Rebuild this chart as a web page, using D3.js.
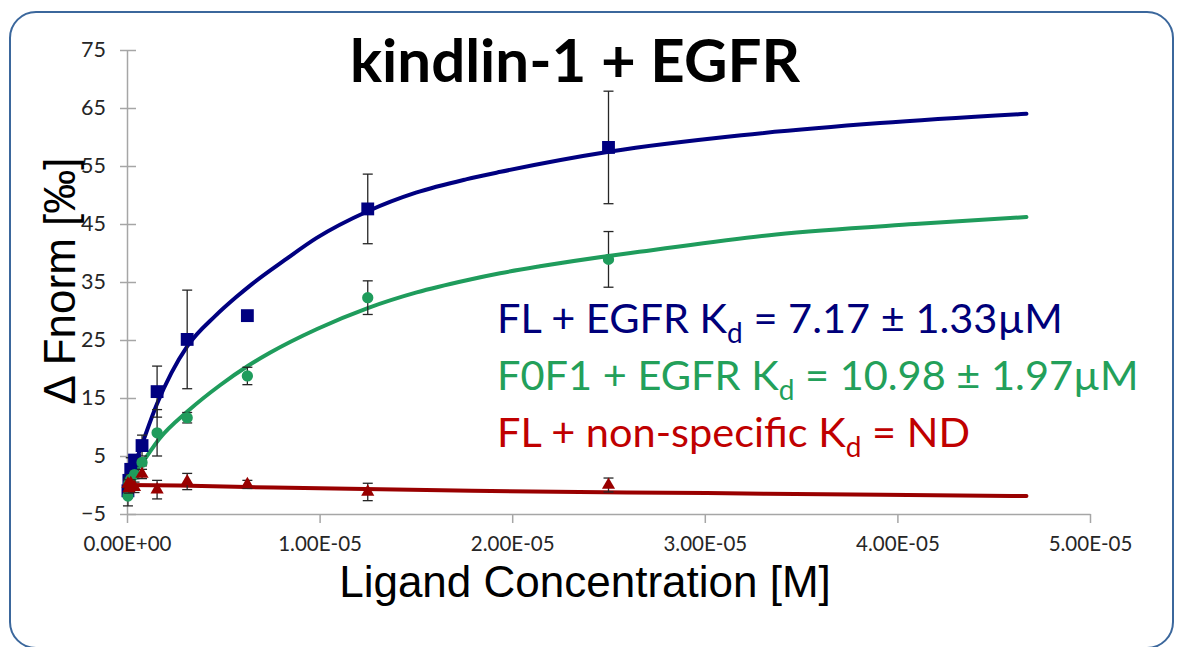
<!DOCTYPE html>
<html>
<head>
<meta charset="utf-8">
<script src="https://cdn.jsdelivr.net/npm/d3@7"></script>
<style>
  html, body { margin: 0; padding: 0; background: #fff; }
  svg { display: block; }
</style>
</head>
<body>
<svg id="chart"></svg>
<script>
// dilution series, ligand concentration [M]
const conc = [2.5e-5, 1.25e-5, 6.25e-6, 3.125e-6, 1.5625e-6, 7.81e-7, 3.91e-7, 1.95e-7, 9.8e-8, 4.9e-8];

// FL + EGFR (blue squares)
const valFL = [58.2, 47.6, 29.2, 25.1, 16.1, 6.8, 4.3, 2.7, 0.8, -1.0];
const errFL = [9.7, 6.0, 0.5, 8.5, 4.4, 1.8, 0.8, 2.0, 1.0, 1.2];
// F0F1 + EGFR (green circles)
const valF0F1 = [38.9, 32.3, 18.8, 11.6, 9.0, 3.9, 1.8, 1.0, 0.3, -1.9];
const errF0F1 = [4.8, 2.9, 1.5, 0.9, 4.0, 0.6, 0.7, 0.8, 0.9, 1.7];
// FL + non-specific (red triangles)
const valNS = [0.0, -1.2, 0.1, 0.6, -0.8, 1.9, -0.4, 0.3, -0.6, 0.2];
const errNS = [1.2, 1.5, 0.7, 1.4, 1.6, 0.8, 0.9, 0.6, 0.8, 0.7];

// fitted curves
const fitConcFL = [0, 0.4e-6, 0.8e-6, 1.56e-6, 2.3e-6, 3.125e-6, 4.6e-6, 5.67e-6, 6.47e-6, 8.2e-6, 9.85e-6, 12.5e-6, 15e-6, 17.6e-6, 19.4e-6, 25.1e-6, 31.9e-6, 39.1e-6, 46.7e-6];
const fitValFL = [-0.5, 3.5, 7.2, 14.0, 19.3, 23.9, 29.2, 32.4, 34.6, 38.8, 42.6, 47.2, 50.4, 52.7, 54.0, 57.5, 60.3, 62.4, 64.0];
const fitConcF0F1 = [0, 0.16e-6, 0.85e-6, 1.66e-6, 3.18e-6, 4.83e-6, 6.31e-6, 7.42e-6, 9.87e-6, 12.5e-6, 15.04e-6, 17.64e-6, 19.37e-6, 21.44e-6, 25e-6, 26.6e-6, 33.7e-6, 40.9e-6, 46.7e-6];
const fitValF0F1 = [0.0, 1.0, 4.1, 7.9, 12.8, 17.2, 20.6, 22.8, 26.9, 30.5, 33.2, 35.3, 36.5, 37.7, 39.5, 40.2, 43.2, 45.0, 46.2];
const fitConcNS = [0, 2.7e-6, 7.6e-6, 17.9e-6, 30.1e-6, 39.2e-6, 46.7e-6];
const fitValNS = [0.0, -0.1, -0.45, -1.0, -1.4, -1.7, -1.9];

// axes
const xTicks = [0, 1e-5, 2e-5, 3e-5, 4e-5, 5e-5];
const xTickLabels = ["0.00E+00", "1.00E-05", "2.00E-05", "3.00E-05", "4.00E-05", "5.00E-05"];
const yTicks = [-5, 5, 15, 25, 35, 45, 55, 65, 75];

// legend
const legendNames = ["FL + EGFR", "F0F1 + EGFR", "FL + non-specific"];
const legendKd = ["7.17 ± 1.33µM", "10.98 ± 1.97µM", "ND"];

const width = 1182, height = 647;
const marginLeft = 127, marginRight = 92, marginTop = 50, marginBottom = 133;

const colBlue = "#000080", colGreen = "#1f9c5c", colRed = "#990000";
const textBlue = "#00007a", textGreen = "#23a05a", textRed = "#c00000";

const svg = d3.select("#chart")
    .attr("width", width)
    .attr("height", height)
    .attr("viewBox", [0, 0, width, height]);

// rounded frame
svg.append("rect")
    .attr("x", 10).attr("y", 12)
    .attr("width", 1163).attr("height", 636)
    .attr("rx", 26)
    .attr("fill", "#fff")
    .attr("stroke", "#3b679c")
    .attr("stroke-width", 2);

const x = d3.scaleLinear([0, 5e-5], [marginLeft, width - marginRight]);
const y = d3.scaleLinear([-5, 75], [height - marginBottom, marginTop]);

const axisColor = "#a6a6a6";

svg.append("g")
    .attr("transform", `translate(0,${y(-5)})`)
    .call(d3.axisBottom(x).tickValues(xTicks).tickFormat((d, i) => xTickLabels[i])
        .tickSizeInner(9).tickSizeOuter(0).tickPadding(13))
    .call(g => g.select(".domain").attr("stroke", axisColor).attr("stroke-width", 1.5))
    .call(g => g.selectAll(".tick line").attr("stroke", axisColor).attr("stroke-width", 1.5))
    .call(g => g.selectAll(".tick text")
        .attr("font-family", "Lato, 'Open Sans', sans-serif")
        .attr("font-size", 20.5)
        .attr("fill", "#262626"));

svg.append("g")
    .attr("transform", `translate(${x(0)},0)`)
    .call(d3.axisLeft(y).tickValues(yTicks)
        .tickSizeInner(7).tickSizeOuter(0).tickPadding(14))
    .call(g => g.select(".domain").attr("stroke", axisColor).attr("stroke-width", 1.5))
    .call(g => g.selectAll(".tick").append("line").attr("x2", 9))
    .call(g => g.selectAll(".tick line").attr("stroke", axisColor).attr("stroke-width", 1.5))
    .call(g => g.selectAll(".tick text")
        .attr("font-family", "Lato, 'Open Sans', sans-serif")
        .attr("font-size", 21.5)
        .attr("fill", "#262626"));

// fitted curves
const line = d3.line()
    .x(d => x(d[0]))
    .y(d => y(d[1]))
    .curve(d3.curveMonotoneX);

const series = [
    {val: valFL, err: errFL, fc: fitConcFL, fv: fitValFL, color: colBlue, symbol: d3.symbolSquare, size: 165},
    {val: valF0F1, err: errF0F1, fc: fitConcF0F1, fv: fitValF0F1, color: colGreen, symbol: d3.symbolCircle, size: 100},
    {val: valNS, err: errNS, fc: fitConcNS, fv: fitValNS, color: colRed, symbol: d3.symbolTriangle, size: 75}
];

series.forEach(s => {
    svg.append("path")
        .datum(s.fc.map((c, i) => [c, s.fv[i]]))
        .attr("fill", "none")
        .attr("stroke", s.color)
        .attr("stroke-width", 4)
        .attr("stroke-linecap", "round")
        .attr("d", line);
});

series.forEach(s => {
    const I = d3.range(conc.length);
    // error bars
    const eb = svg.append("g")
        .attr("stroke", "#262626")
        .attr("stroke-width", 1.3);
    eb.selectAll("line.v")
        .data(I)
        .join("line")
        .attr("x1", i => x(conc[i])).attr("x2", i => x(conc[i]))
        .attr("y1", i => y(s.val[i] - s.err[i]))
        .attr("y2", i => y(s.val[i] + s.err[i]));
    [-1, 1].forEach(sign => {
        eb.append("g").selectAll("line")
            .data(I)
            .join("line")
            .attr("x1", i => x(conc[i]) - 5).attr("x2", i => x(conc[i]) + 5)
            .attr("y1", i => y(s.val[i] + sign * s.err[i]))
            .attr("y2", i => y(s.val[i] + sign * s.err[i]));
    });
    // markers
    svg.append("g")
        .attr("fill", s.color)
        .selectAll("path")
        .data(I)
        .join("path")
        .attr("transform", i => `translate(${x(conc[i])},${y(s.val[i])})`)
        .attr("d", d3.symbol(s.symbol, s.size));
});

// title
svg.append("text")
    .attr("x", 575)
    .attr("y", 82)
    .attr("text-anchor", "middle")
    .attr("font-family", "Lato, 'Open Sans', sans-serif")
    .attr("font-weight", "bold")
    .attr("font-size", 60)
    .attr("fill", "#000")
    .text("kindlin-1 + EGFR");

// axis titles
svg.append("text")
    .attr("x", 585)
    .attr("y", 597)
    .attr("text-anchor", "middle")
    .attr("font-family", "'Liberation Sans', Arial, sans-serif")
    .attr("font-size", 44)
    .attr("fill", "#000")
    .text("Ligand Concentration [M]");

svg.append("text")
    .attr("transform", "translate(75,281) rotate(-90)")
    .attr("text-anchor", "middle")
    .attr("font-family", "'Liberation Sans', Arial, sans-serif")
    .attr("font-size", 44)
    .attr("fill", "#000")
    .text("Δ Fnorm [‰]");

// legend with Kd values
const legendColors = [textBlue, textGreen, textRed];
legendNames.forEach((name, i) => {
    const t = svg.append("text")
        .attr("x", 497)
        .attr("y", 333 + i * 57)
        .attr("font-family", "Lato, 'Open Sans', sans-serif")
        .attr("font-size", 41.5)
        .attr("fill", legendColors[i]);
    t.append("tspan").text(name + " K");
    t.append("tspan").attr("font-size", 28).attr("dy", 10).text("d");
    t.append("tspan").attr("dy", -10).text(" = " + legendKd[i]);
});
</script>
</body>
</html>
